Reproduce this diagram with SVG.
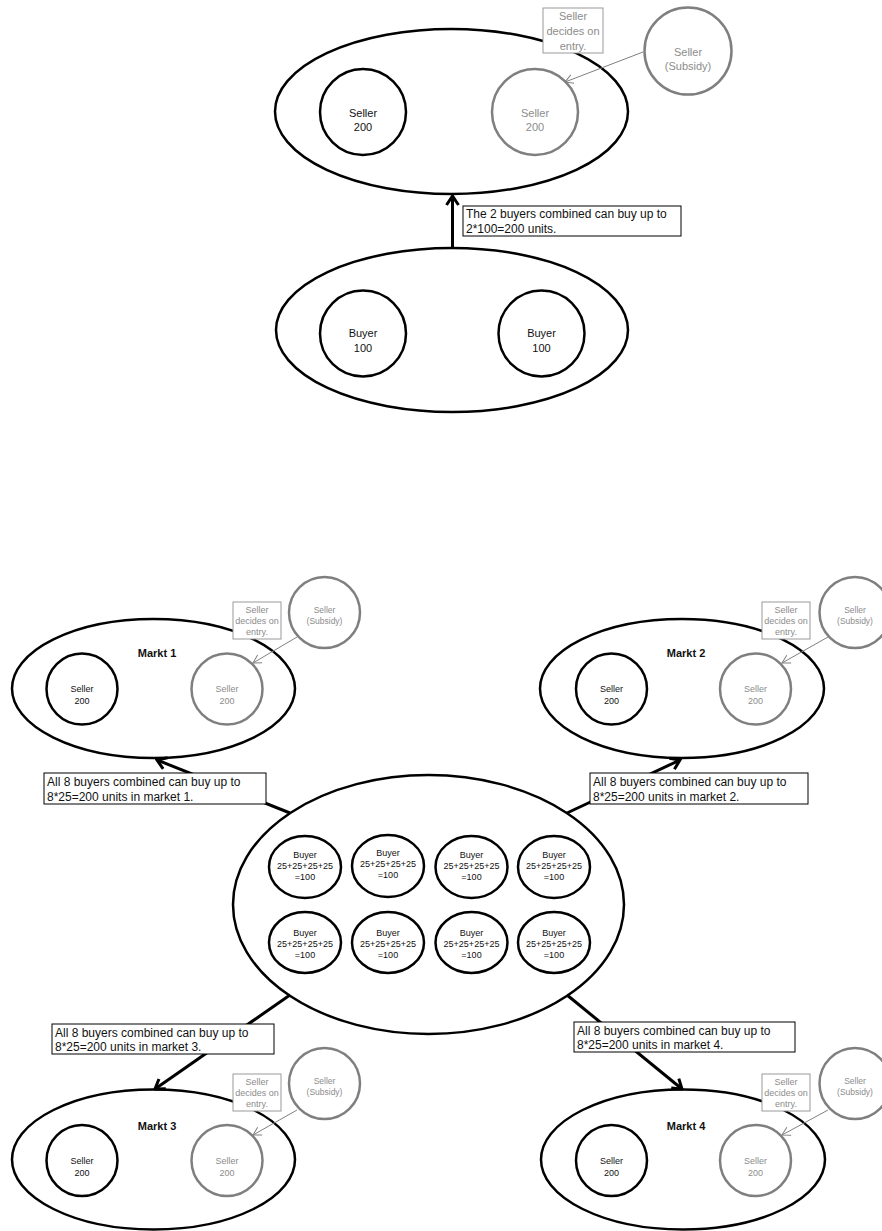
<svg xmlns="http://www.w3.org/2000/svg" width="882" height="1231" viewBox="0 0 882 1231">
<defs>
<style>
text{font-family:"Liberation Sans",Arial,sans-serif;text-anchor:middle;fill:#111}
.grp{fill:none;stroke:#000;stroke-width:2.5}
.blk{fill:#fff;stroke:#000;stroke-width:2.5}
.gry{fill:#fff;stroke:#7f7f7f;stroke-width:2.5}
.gt{fill:#8c8c8c}
.lbl{fill:#fff;stroke:#999;stroke-width:1}
.box{fill:#fff;stroke:#000;stroke-width:1}
.bt{text-anchor:start;font-size:12px}
.thick{stroke:#000;stroke-width:3;fill:none}
.thin{stroke:#808080;stroke-width:1;fill:none}
.mk{font-weight:bold;font-size:11px}
.s11{font-size:11px}
.s9{font-size:9px}
.s85{font-size:8.5px}
</style>
<marker id="ah" markerUnits="userSpaceOnUse" viewBox="-12 -8 14 16" refX="0" refY="0" markerWidth="14" markerHeight="16" orient="auto">
<path d="M-9,-6 L0,0 L-9,6" fill="none" stroke="#000" stroke-width="3"/>
</marker>
<marker id="ahs" markerUnits="userSpaceOnUse" viewBox="-10 -6 12 12" refX="0" refY="0" markerWidth="12" markerHeight="12" orient="auto">
<path d="M-8,-4.5 L0,0 L-8,4.5" fill="none" stroke="#808080" stroke-width="1"/>
</marker>
</defs>
<rect width="882" height="1231" fill="#fff"/>

<!-- Top scenario -->
<g id="top-sellers">
<ellipse class="grp" cx="451.5" cy="111.5" rx="176.5" ry="82.5"/>
<g id="top-seller1"><circle class="blk" cx="363" cy="112" r="43"/><text class="s11" x="363" y="117">Seller</text><text class="s11" x="363" y="131">200</text></g>
<g id="top-seller2"><circle class="gry" cx="535" cy="112" r="43"/><text class="s11 gt" x="535" y="117">Seller</text><text class="s11 gt" x="535" y="131">200</text></g>
</g>
<g id="top-subsidy"><circle class="gry" cx="688" cy="51" r="43.5"/><text class="s11 gt" x="688" y="56">Seller</text><text class="s11 gt" x="688" y="70">(Subsidy)</text></g>
<g id="top-buyers">
<ellipse class="grp" cx="452" cy="330" rx="176" ry="82"/>
<g id="top-buyer1"><circle class="blk" cx="363" cy="333.5" r="43"/><text class="s11" x="363" y="337">Buyer</text><text class="s11" x="363" y="352">100</text></g>
<g id="top-buyer2"><circle class="blk" cx="541.5" cy="333.5" r="43"/><text class="s11" x="541.5" y="337">Buyer</text><text class="s11" x="541.5" y="352">100</text></g>
</g>

<!-- Markets -->
<g id="markt1">
<ellipse class="grp" cx="153.5" cy="688.5" rx="141.5" ry="69.5"/>
<text class="mk" x="157" y="657">Markt 1</text>
<g><circle class="blk" cx="82" cy="689" r="35.5"/><text class="s9" x="82" y="692">Seller</text><text class="s9" x="82" y="704">200</text></g>
<g><circle class="gry" cx="227" cy="689" r="35.5"/><text class="s9 gt" x="227" y="692">Seller</text><text class="s9 gt" x="227" y="704">200</text></g>
</g>
<g id="subsidy1"><circle class="gry" cx="324.5" cy="612.5" r="35.5"/><text class="s85 gt" x="324.5" y="613">Seller</text><text class="s85 gt" x="324.5" y="624">(Subsidy)</text></g>

<g id="markt2">
<ellipse class="grp" cx="682" cy="688.5" rx="142" ry="69.5"/>
<text class="mk" x="686" y="657">Markt 2</text>
<g><circle class="blk" cx="611.5" cy="689" r="35.5"/><text class="s9" x="611.5" y="692">Seller</text><text class="s9" x="611.5" y="704">200</text></g>
<g><circle class="gry" cx="755.5" cy="689" r="35.5"/><text class="s9 gt" x="755.5" y="692">Seller</text><text class="s9 gt" x="755.5" y="704">200</text></g>
</g>
<g id="subsidy2"><circle class="gry" cx="855" cy="612.5" r="35.5"/><text class="s85 gt" x="855" y="613">Seller</text><text class="s85 gt" x="855" y="624">(Subsidy)</text></g>

<g id="markt3">
<ellipse class="grp" cx="153.5" cy="1159.5" rx="141.5" ry="70"/>
<text class="mk" x="157" y="1130">Markt 3</text>
<g><circle class="blk" cx="82" cy="1160.5" r="35.5"/><text class="s9" x="82" y="1163.5">Seller</text><text class="s9" x="82" y="1175.5">200</text></g>
<g><circle class="gry" cx="227" cy="1160.5" r="35.5"/><text class="s9 gt" x="227" y="1163.5">Seller</text><text class="s9 gt" x="227" y="1175.5">200</text></g>
</g>
<g id="subsidy3"><circle class="gry" cx="324.5" cy="1083.5" r="35.5"/><text class="s85 gt" x="324.5" y="1084">Seller</text><text class="s85 gt" x="324.5" y="1095">(Subsidy)</text></g>

<g id="markt4">
<ellipse class="grp" cx="683" cy="1159.5" rx="142" ry="70"/>
<text class="mk" x="686" y="1130">Markt 4</text>
<g><circle class="blk" cx="611.5" cy="1160.5" r="35.5"/><text class="s9" x="611.5" y="1163.5">Seller</text><text class="s9" x="611.5" y="1175.5">200</text></g>
<g><circle class="gry" cx="755.5" cy="1160.5" r="35.5"/><text class="s9 gt" x="755.5" y="1163.5">Seller</text><text class="s9 gt" x="755.5" y="1175.5">200</text></g>
</g>
<g id="subsidy4"><circle class="gry" cx="855" cy="1083.5" r="35.5"/><text class="s85 gt" x="855" y="1084">Seller</text><text class="s85 gt" x="855" y="1095">(Subsidy)</text></g>

<!-- Central buyers -->
<g id="buyers">
<ellipse class="grp" cx="428.5" cy="904.5" rx="195.5" ry="129.5"/>
<g id="b1"><ellipse class="blk" cx="305" cy="867" rx="36" ry="31"/><text class="s9" x="305" y="858">Buyer</text><text class="s9" x="305" y="869">25+25+25+25</text><text class="s9" x="305" y="880">=100</text></g>
<g id="b2"><ellipse class="blk" cx="388" cy="866" rx="36" ry="31"/><text class="s9" x="388" y="856">Buyer</text><text class="s9" x="388" y="867">25+25+25+25</text><text class="s9" x="388" y="878">=100</text></g>
<g id="b3"><ellipse class="blk" cx="471.5" cy="867" rx="36" ry="31"/><text class="s9" x="471.5" y="858">Buyer</text><text class="s9" x="471.5" y="869">25+25+25+25</text><text class="s9" x="471.5" y="880">=100</text></g>
<g id="b4"><ellipse class="blk" cx="554" cy="867" rx="36" ry="31"/><text class="s9" x="554" y="858">Buyer</text><text class="s9" x="554" y="869">25+25+25+25</text><text class="s9" x="554" y="880">=100</text></g>
<g id="b5"><ellipse class="blk" cx="305" cy="942.5" rx="36" ry="30.5"/><text class="s9" x="305" y="936">Buyer</text><text class="s9" x="305" y="947">25+25+25+25</text><text class="s9" x="305" y="958">=100</text></g>
<g id="b6"><ellipse class="blk" cx="388" cy="942.5" rx="36" ry="30.5"/><text class="s9" x="388" y="936">Buyer</text><text class="s9" x="388" y="947">25+25+25+25</text><text class="s9" x="388" y="958">=100</text></g>
<g id="b7"><ellipse class="blk" cx="471.5" cy="942.5" rx="36" ry="30.5"/><text class="s9" x="471.5" y="936">Buyer</text><text class="s9" x="471.5" y="947">25+25+25+25</text><text class="s9" x="471.5" y="958">=100</text></g>
<g id="b8"><ellipse class="blk" cx="554" cy="942.5" rx="36" ry="30.5"/><text class="s9" x="554" y="936">Buyer</text><text class="s9" x="554" y="947">25+25+25+25</text><text class="s9" x="554" y="958">=100</text></g>
</g>

<!-- Connectors -->
<g id="connectors">
<line class="thick" x1="452.5" y1="248" x2="452.5" y2="196" marker-end="url(#ah)"/>
<line class="thick" x1="290" y1="813" x2="157" y2="760" marker-end="url(#ah)"/>
<line class="thick" x1="567" y1="813" x2="680" y2="760" marker-end="url(#ah)"/>
<line class="thick" x1="290" y1="995" x2="155" y2="1089" marker-end="url(#ah)"/>
<line class="thick" x1="567" y1="995" x2="682" y2="1089" marker-end="url(#ah)"/>
<line class="thin" x1="643" y1="52" x2="565" y2="82" marker-end="url(#ahs)"/>
<line class="thin" x1="297" y1="637" x2="253" y2="663" marker-end="url(#ahs)"/>
<line class="thin" x1="828" y1="637" x2="782" y2="663" marker-end="url(#ahs)"/>
<line class="thin" x1="297" y1="1110" x2="253" y2="1135" marker-end="url(#ahs)"/>
<line class="thin" x1="828" y1="1110" x2="782" y2="1135" marker-end="url(#ahs)"/>

<g id="label-top"><rect class="box" x="463" y="206" width="218" height="30"/><text class="bt" x="466" y="218">The 2 buyers combined can buy up to</text><text class="bt" x="466" y="233">2*100=200 units.</text></g>
<g id="label-m1"><rect class="box" x="44" y="773" width="222" height="31"/><text class="bt" x="47" y="786">All 8 buyers combined can buy up to</text><text class="bt" x="47" y="801">8*25=200 units in market 1.</text></g>
<g id="label-m2"><rect class="box" x="590" y="773" width="218" height="31"/><text class="bt" x="593" y="786">All 8 buyers combined can buy up to</text><text class="bt" x="593" y="801">8*25=200 units in market 2.</text></g>
<g id="label-m3"><rect class="box" x="52" y="1024" width="222" height="30"/><text class="bt" x="55" y="1037">All 8 buyers combined can buy up to</text><text class="bt" x="55" y="1051">8*25=200 units in market 3.</text></g>
<g id="label-m4"><rect class="box" x="574" y="1022" width="221" height="30"/><text class="bt" x="577" y="1035">All 8 buyers combined can buy up to</text><text class="bt" x="577" y="1049">8*25=200 units in market 4.</text></g>

<g id="entry-top"><rect class="lbl" x="543" y="8" width="60" height="45"/><text class="s11 gt" x="573" y="20">Seller</text><text class="s11 gt" x="573" y="35">decides on</text><text class="s11 gt" x="573" y="50">entry.</text></g>
<g id="entry-m1"><rect class="lbl" x="233" y="602" width="48" height="37"/><text class="s9 gt" x="257" y="613">Seller</text><text class="s9 gt" x="257" y="624">decides on</text><text class="s9 gt" x="257" y="635">entry.</text></g>
<g id="entry-m2"><rect class="lbl" x="762" y="602" width="48" height="37"/><text class="s9 gt" x="786" y="613">Seller</text><text class="s9 gt" x="786" y="624">decides on</text><text class="s9 gt" x="786" y="635">entry.</text></g>
<g id="entry-m3"><rect class="lbl" x="233" y="1074" width="48" height="37"/><text class="s9 gt" x="257" y="1085">Seller</text><text class="s9 gt" x="257" y="1096">decides on</text><text class="s9 gt" x="257" y="1107">entry.</text></g>
<g id="entry-m4"><rect class="lbl" x="762" y="1074" width="48" height="37"/><text class="s9 gt" x="786" y="1085">Seller</text><text class="s9 gt" x="786" y="1096">decides on</text><text class="s9 gt" x="786" y="1107">entry.</text></g>
</g>
</svg>
